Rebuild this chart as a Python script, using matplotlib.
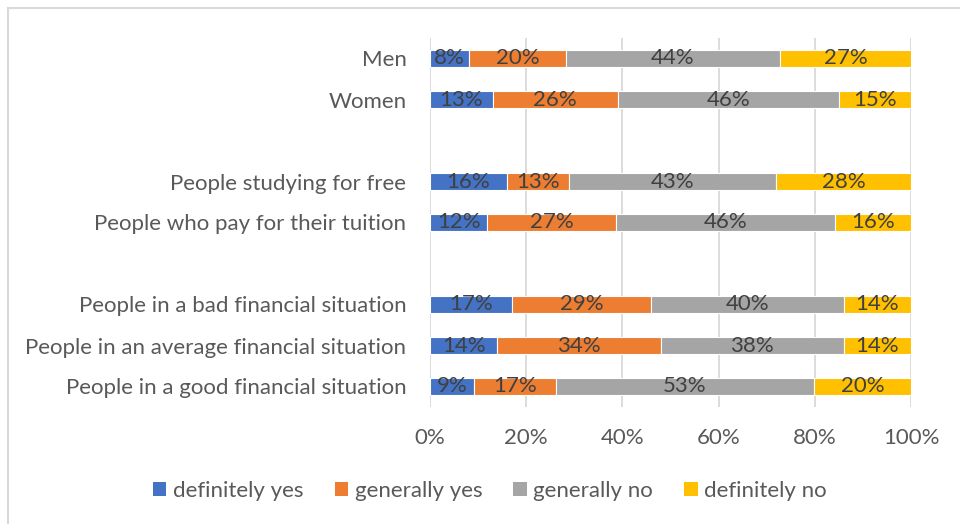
import numpy as np
import matplotlib.pyplot as plt
from matplotlib.lines import Line2D
from matplotlib.patches import Patch

plt.rcParams['font.family'] = ['Lato', 'DejaVu Sans']

# Survey groups (top to bottom), blank rows separate the three blocks
groups = ["Men", "Women", "",
          "People studying for free", "People who pay for their tuition", "",
          "People in a bad financial situation",
          "People in an average financial situation",
          "People in a good financial situation"]

answers = ["definitely yes", "generally yes", "generally no", "definitely no"]
colors = ["#4472C4", "#ED7D31", "#A5A5A5", "#FFC000"]

definitely_yes = [8, 13, None, 16, 12, None, 17, 14, 9]
generally_yes = [20, 26, None, 13, 27, None, 29, 34, 17]
generally_no = [44, 46, None, 43, 46, None, 40, 38, 53]
definitely_no = [27, 15, None, 28, 16, None, 14, 14, 20]

series = [definitely_yes, generally_yes, generally_no, definitely_no]

FS = 16

fig = plt.figure(figsize=(9.6, 5.24), dpi=100)
ax = fig.add_axes([430 / 960, 1 - 407 / 524, 481 / 960, 369 / 524])

ypos = np.arange(len(groups))
for i, label in enumerate(groups):
    if not label:
        continue
    vals = [s[i] for s in series]
    total = sum(vals)
    left = 0.0
    for v, c in zip(vals, colors):
        w = v / total
        ax.barh(ypos[i], w, left=left, height=0.42, color=c,
                edgecolor="white", linewidth=0.8)
        ax.text(left + w / 2, ypos[i], f"{v}%", ha="center", va="center",
                fontsize=FS, color="#404040")
        left += w

ax.set_ylim(len(groups) - 0.5, -0.5)
ax.set_xlim(0, 1)
ax.set_yticks(ypos)
ax.set_yticklabels(groups)
ax.set_xticks(np.linspace(0, 1, 6))
ax.set_xticklabels([f"{int(t)}%" for t in np.linspace(0, 100, 6)])
ax.tick_params(axis="y", length=0, pad=17, labelsize=FS, labelcolor="#595959")
ax.tick_params(axis="x", length=0, pad=15, labelsize=FS, labelcolor="#595959")

for x in np.linspace(0, 1, 6):
    ax.axvline(x, color="#D9D9D9", linewidth=1.3, zorder=0)
for sp in ax.spines.values():
    sp.set_visible(False)

handles = [Patch(facecolor=c, edgecolor="none") for c in colors]
fig.legend(handles, answers, loc="center", bbox_to_anchor=(490 / 960, 1 - 491 / 524),
           ncol=4, frameon=False, fontsize=FS, labelcolor="#595959",
           handlelength=0.6, handleheight=0.6, handletextpad=0.3,
           columnspacing=1.4)

# chart frame, running off the right and bottom edges
fig.add_artist(Line2D([8 / 960, 8 / 960], [0, 1 - 8 / 524], color="#D9D9D9",
                      linewidth=1.5, transform=fig.transFigure))
fig.add_artist(Line2D([8 / 960, 1], [1 - 8 / 524, 1 - 8 / 524], color="#D9D9D9",
                      linewidth=1.5, transform=fig.transFigure))

fig.savefig("out.png", dpi=100)
